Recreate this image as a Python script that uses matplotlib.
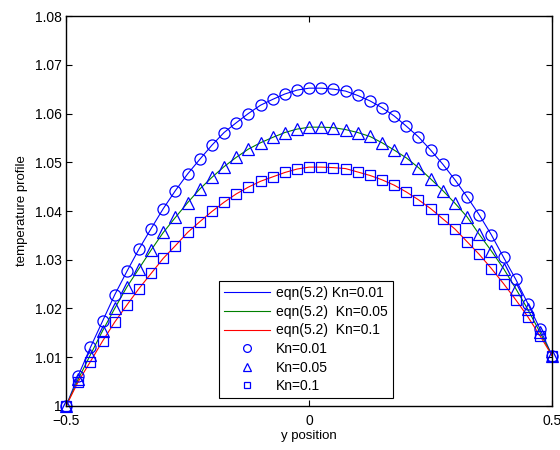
import numpy as np
import matplotlib
matplotlib.use("Agg")
import matplotlib.pyplot as plt

plt.rcParams['font.family'] = ['Liberation Sans', 'DejaVu Sans']
plt.rcParams['font.size'] = 10

# y positions across the channel
y_pos = np.linspace(-0.5, 0.5, 41)

# temperature profiles for the three Knudsen numbers
temp_kn001 = [1.0000, 1.0062, 1.0120, 1.0174, 1.0228, 1.0276, 1.0322, 1.0364, 1.0405, 1.0442,
              1.0476, 1.0506, 1.0535, 1.0561, 1.0581, 1.0600, 1.0617, 1.0629, 1.0640, 1.0648,
              1.0652, 1.0652, 1.0650, 1.0646, 1.0637, 1.0626, 1.0612, 1.0595, 1.0574, 1.0552,
              1.0525, 1.0496, 1.0464, 1.0429, 1.0392, 1.0351, 1.0305, 1.0260, 1.0210, 1.0158,
              1.0103]
temp_kn005 = [1.0000, 1.0055, 1.0105, 1.0154, 1.0200, 1.0244, 1.0282, 1.0320, 1.0356, 1.0387,
              1.0417, 1.0445, 1.0469, 1.0491, 1.0510, 1.0527, 1.0540, 1.0551, 1.0561, 1.0568,
              1.0572, 1.0572, 1.0571, 1.0567, 1.0561, 1.0553, 1.0540, 1.0525, 1.0509, 1.0489,
              1.0466, 1.0442, 1.0416, 1.0388, 1.0352, 1.0318, 1.0282, 1.0241, 1.0198, 1.0151,
              1.0103]
temp_kn01 = [1.0000, 1.0050, 1.0091, 1.0133, 1.0172, 1.0207, 1.0241, 1.0272, 1.0303, 1.0329,
             1.0356, 1.0378, 1.0399, 1.0418, 1.0435, 1.0449, 1.0461, 1.0470, 1.0479, 1.0486,
             1.0490, 1.0490, 1.0489, 1.0487, 1.0480, 1.0473, 1.0464, 1.0453, 1.0439, 1.0423,
             1.0405, 1.0384, 1.0363, 1.0337, 1.0311, 1.0282, 1.0251, 1.0218, 1.0183, 1.0144,
             1.0103]

line_labels = ["eqn(5.2) Kn=0.01", "eqn(5.2)  Kn=0.05", "eqn(5.2)  Kn=0.1"]
marker_labels = ["Kn=0.01", "Kn=0.05", "Kn=0.1"]
x_ticks = [-0.5, 0, 0.5]
x_tick_labels = ["\u22120.5", "0", "0.5"]
y_ticks = [1.00, 1.01, 1.02, 1.03, 1.04, 1.05, 1.06, 1.07, 1.08]
y_tick_labels = ["1", "1.01", "1.02", "1.03", "1.04", "1.05", "1.06", "1.07", "1.08"]

fig = plt.figure(figsize=(5.6, 4.5), dpi=100)
ax = fig.add_axes([0.118, 0.0978, 0.868, 0.8666])

series = [temp_kn001, temp_kn005, temp_kn01]
line_colors = ["#0000ff", "#008000", "#ff0000"]
for vals, c, lab in zip(series, line_colors, line_labels):
    ax.plot(y_pos, vals, color=c, lw=0.8, label=lab)

markers = [("o", 8.0), ("^", 8.0), ("s", 7.0)]
for vals, (m, ms), lab in zip(series, markers, marker_labels):
    ax.plot(y_pos, vals, linestyle="none", marker=m, ms=ms, mfc="none",
            mec="#0000ff", mew=0.9, label=lab, clip_on=False)

ax.set_xlim(-0.5, 0.5)
ax.set_ylim(1.0, 1.08)
ax.set_xticks(x_ticks)
ax.set_xticklabels(x_tick_labels)
ax.set_yticks(y_ticks)
ax.set_yticklabels(y_tick_labels)
ax.tick_params(direction="in", top=True, right=True, length=4, width=0.8,
               labelsize=10)
ax.tick_params(axis="x", pad=6)
ax.tick_params(axis="y", pad=3)
for s in ax.spines.values():
    s.set_linewidth(1.0)

ax.set_xlabel("y position", fontsize=9.5, labelpad=1)
ax.set_ylabel("temperature profile", fontsize=9.5, labelpad=5)

leg = ax.legend(loc="lower left", bbox_to_anchor=(0.315, 0.0205), frameon=True,
                fancybox=False, framealpha=1, edgecolor="black", fontsize=10,
                handlelength=3.3, handletextpad=0.45, labelspacing=0.33,
                borderpad=0.35, markerscale=0.7, borderaxespad=0)
leg.get_frame().set_linewidth(0.8)

fig.savefig("out.png", dpi=100)
